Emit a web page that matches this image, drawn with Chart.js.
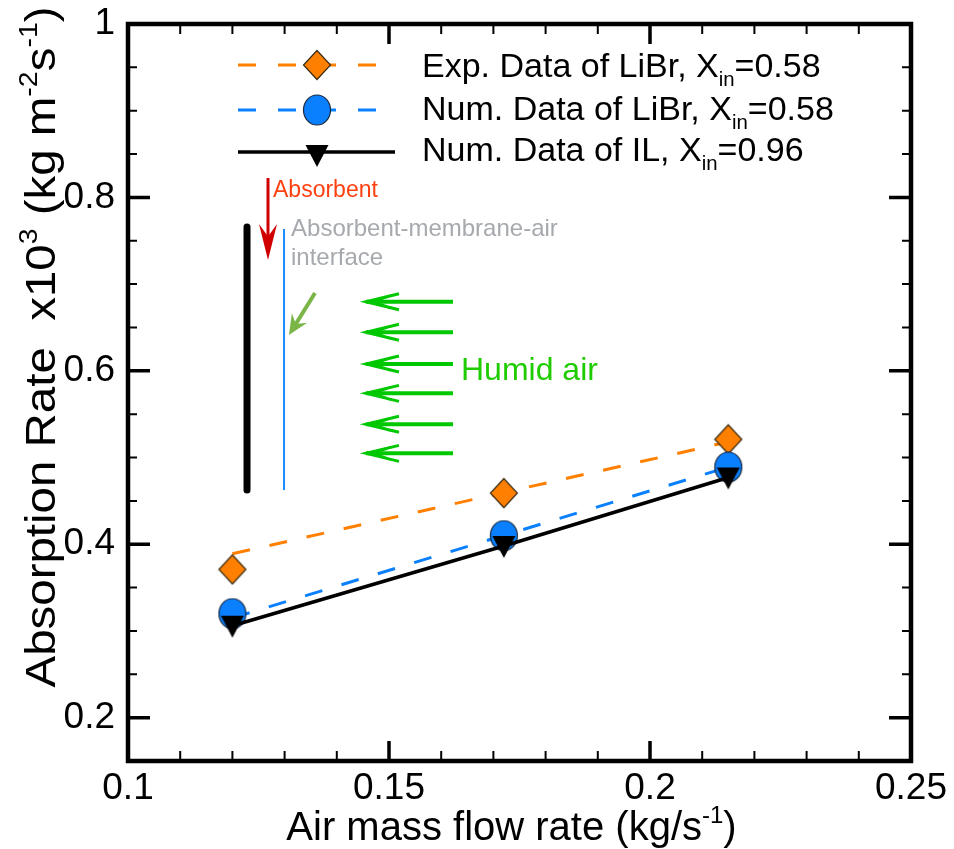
<!DOCTYPE html>
<html>
<head>
<meta charset="utf-8">
<script src="https://cdn.jsdelivr.net/npm/chart.js@4.4.0/dist/chart.umd.min.js"></script>
<style>
  html, body { margin: 0; padding: 0; background: #fff; }
</style>
</head>
<body>
<canvas id="chart" width="954" height="849"></canvas>
<script>
// values
const flowRates = [0.12, 0.172, 0.215];
const expLiBr = [0.371, 0.459, 0.521];
const numLiBr = [0.32, 0.41, 0.489];
const numIL = [0.306, 0.398, 0.477];

// dashed trend lines (end points)
const fitX = [0.12, 0.215];
const expLiBrFit = [0.389, 0.518];
const numLiBrFit = [0.315, 0.489];

const xTicks = [0.1, 0.15, 0.2, 0.25];
const yTicks = [0.2, 0.4, 0.6, 0.8, 1];

// legend labels: [text, kind] pieces
const seriesNames = [
    [["Exp. Data of LiBr, X"], ["in", "sub"], ["=0.58"]],
    [["Num. Data of LiBr, X"], ["in", "sub"], ["=0.58"]],
    [["Num. Data of IL, X"], ["in", "sub"], ["=0.96"]]
];
const xTitle = [["Air mass flow rate (kg/s"], ["-1", "sup"], [")"]];
const yTitle = [["Absorption Rate  x10"], ["3", "sup"], [" (kg m"], ["-2", "sup"], ["s"], ["-1", "sup"], [")"]];

const FONT = '"Liberation Sans", Arial, Helvetica, sans-serif';
const ORANGE = "#ff8000";
const BLUE = "#0a80ff";

function makeMarker(kind) {
    const c = document.createElement("canvas");
    const g = c.getContext("2d");
    if (kind === "diamond") {
        c.width = 30; c.height = 32;
        g.beginPath();
        g.moveTo(15, 1.5); g.lineTo(28.5, 16); g.lineTo(15, 30.5); g.lineTo(1.5, 16);
        g.closePath();
        g.fillStyle = ORANGE; g.fill();
        g.lineWidth = 1.2; g.strokeStyle = "#3a2a10"; g.stroke();
    } else if (kind === "circle") {
        c.width = 30; c.height = 32;
        g.beginPath();
        g.ellipse(15, 16, 13.5, 15, 0, 0, Math.PI * 2);
        g.fillStyle = BLUE; g.fill();
        g.lineWidth = 1.2; g.strokeStyle = "#1a2a40"; g.stroke();
    } else {
        c.width = 26; c.height = 26;
        g.beginPath();
        g.moveTo(1.5, 3); g.lineTo(24.5, 3); g.lineTo(13, 25);
        g.closePath();
        g.fillStyle = "#000"; g.fill();
    }
    return c;
}
const diamond = makeMarker("diamond");
const circle = makeMarker("circle");
const triangle = makeMarker("triangle");

function drawRich(ctx, parts, x, y, size) {
    let cx = x;
    for (const p of parts) {
        const s = p[1] ? size * 0.6 : size;
        ctx.font = s + "px " + FONT;
        let dy = 0;
        if (p[1] === "sup") dy = -size * 0.42;
        if (p[1] === "sub") dy = size * 0.27;
        ctx.fillText(p[0], cx, y + dy);
        cx += ctx.measureText(p[0]).width;
    }
    return cx - x;
}
function richWidth(ctx, parts, size) {
    let w = 0;
    for (const p of parts) {
        ctx.font = (p[1] ? size * 0.6 : size) + "px " + FONT;
        w += ctx.measureText(p[0]).width;
    }
    return w;
}

function arrowHead(ctx, tx, ty, ang, len, half) {
    // filled head pointing along ang, tip at (tx, ty)
    const bx = tx - Math.cos(ang) * len, by = ty - Math.sin(ang) * len;
    const nx = -Math.sin(ang) * half, ny = Math.cos(ang) * half;
    const mx = tx - Math.cos(ang) * len * 0.65, my = ty - Math.sin(ang) * len * 0.65;
    ctx.beginPath();
    ctx.moveTo(tx, ty);
    ctx.lineTo(bx + nx, by + ny);
    ctx.lineTo(mx, my);
    ctx.lineTo(bx - nx, by - ny);
    ctx.closePath();
    ctx.fill();
}

// sketch of the membrane channel drawn inside the plot
const sketchPlugin = {
    id: "sketch",
    beforeDatasetsDraw(chart) {
        const ctx = chart.ctx;
        const X = v => chart.scales.x.getPixelForValue(v);
        const Y = v => chart.scales.y.getPixelForValue(v);
        ctx.save();
        ctx.lineCap = "round";

        // absorbent film (black) and interface (blue)
        ctx.strokeStyle = "#000";
        ctx.lineWidth = 7;
        ctx.beginPath(); ctx.moveTo(X(0.1228), Y(0.7659)); ctx.lineTo(X(0.1228), Y(0.4625)); ctx.stroke();
        ctx.strokeStyle = "#1a8cff";
        ctx.lineWidth = 2;
        ctx.lineCap = "butt";
        ctx.beginPath(); ctx.moveTo(X(0.12989), Y(0.7636)); ctx.lineTo(X(0.12989), Y(0.4625)); ctx.stroke();

        // red absorbent arrow
        ctx.strokeStyle = "#d00000";
        ctx.fillStyle = "#d00000";
        ctx.lineWidth = 3;
        const rx = X(0.12682), ry0 = Y(0.8224), ry1 = Y(0.7278);
        ctx.beginPath(); ctx.moveTo(rx, ry0); ctx.lineTo(rx, ry1 - 20); ctx.stroke();
        arrowHead(ctx, rx, ry1, Math.PI / 2, 36, 9);

        ctx.textAlign = "left";
        ctx.textBaseline = "alphabetic";
        ctx.fillStyle = "#ff4010";
        ctx.font = "23px " + FONT;
        ctx.fillText("Absorbent", X(0.12778), Y(0.8005));

        ctx.fillStyle = "#a6a9ad";
        ctx.font = "24px " + FONT;
        ctx.fillText("Absorbent-membrane-air", X(0.13123), Y(0.7555));
        ctx.fillText("interface", X(0.13123), Y(0.722));

        // olive arrow pointing at the interface
        ctx.strokeStyle = "#7ab547";
        ctx.fillStyle = "#7ab547";
        ctx.lineWidth = 4;
        const ox0 = X(0.13582), oy0 = Y(0.6897), ox1 = X(0.13084), oy1 = Y(0.6413);
        const oa = Math.atan2(oy1 - oy0, ox1 - ox0);
        ctx.beginPath(); ctx.moveTo(ox0, oy0); ctx.lineTo(ox1 - Math.cos(oa) * 10, oy1 - Math.sin(oa) * 10); ctx.stroke();
        arrowHead(ctx, ox1, oy1, oa, 20, 9);

        // humid air arrows
        ctx.strokeStyle = "#00c800";
        ctx.lineCap = "butt";
        const tail = X(0.16226), tip = X(0.14559);
        [0.6797, 0.6444, 0.6078, 0.574, 0.5383, 0.5048].forEach(v => {
            const y = Y(v);
            ctx.lineWidth = 4;
            ctx.beginPath(); ctx.moveTo(tail, y); ctx.lineTo(tip, y); ctx.stroke();
            ctx.lineWidth = 3;
            ctx.beginPath();
            ctx.moveTo(tip + 33, y - 8); ctx.lineTo(tip, y); ctx.lineTo(tip + 33, y + 8);
            ctx.moveTo(tip + 24, y - 6); ctx.lineTo(tip + 6, y); ctx.lineTo(tip + 24, y + 6);
            ctx.stroke();
        });
        ctx.fillStyle = "#1fcc00";
        ctx.font = "32px " + FONT;
        ctx.fillText("Humid air", X(0.16379), Y(0.5894));
        ctx.restore();
    }
};

// frame, inward ticks, legend and axis titles
const framePlugin = {
    id: "frame",
    afterDraw(chart) {
        const ctx = chart.ctx;
        const a = chart.chartArea;
        const sx = chart.scales.x, sy = chart.scales.y;
        ctx.save();
        ctx.strokeStyle = "#000";
        ctx.lineCap = "butt";

        // minor ticks
        ctx.lineWidth = 2;
        ctx.beginPath();
        for (let i = 11; i < 25; i++) {
            const x = sx.getPixelForValue(i / 100);
            ctx.moveTo(x, a.bottom); ctx.lineTo(x, a.bottom - 10);
            ctx.moveTo(x, a.top); ctx.lineTo(x, a.top + 10);
        }
        for (let i = 4; i < 20; i++) {
            const y = sy.getPixelForValue(i / 20);
            ctx.moveTo(a.left, y); ctx.lineTo(a.left + 9, y);
            ctx.moveTo(a.right, y); ctx.lineTo(a.right - 9, y);
        }
        ctx.stroke();

        // major ticks
        ctx.lineWidth = 3.5;
        ctx.beginPath();
        xTicks.forEach(v => {
            const x = sx.getPixelForValue(v);
            ctx.moveTo(x, a.bottom); ctx.lineTo(x, a.bottom - 20);
            ctx.moveTo(x, a.top); ctx.lineTo(x, a.top + 20);
        });
        yTicks.forEach(v => {
            const y = sy.getPixelForValue(v);
            ctx.moveTo(a.left, y); ctx.lineTo(a.left + 22, y);
            ctx.moveTo(a.right, y); ctx.lineTo(a.right - 22, y);
        });
        ctx.stroke();

        ctx.lineWidth = 4.5;
        ctx.strokeRect(a.left, a.top, a.right - a.left, a.bottom - a.top);

        // legend
        const rows = [
            { y: 65, color: ORANGE, dash: [18, 22], end: 376, lw: 3, img: diamond },
            { y: 110, color: BLUE, dash: [18, 22], end: 376, lw: 3, img: circle },
            { y: 152, color: "#000", dash: [], end: 395, lw: 3.5, img: triangle }
        ];
        const base = [77, 120, 161];
        rows.forEach((r, i) => {
            ctx.strokeStyle = r.color;
            ctx.lineWidth = r.lw;
            ctx.setLineDash(r.dash);
            ctx.beginPath(); ctx.moveTo(238, r.y); ctx.lineTo(r.end, r.y); ctx.stroke();
            ctx.setLineDash([]);
            ctx.drawImage(r.img, 317 - r.img.width / 2, r.y + (i === 2 ? 3 : 0) - r.img.height / 2);
            ctx.fillStyle = "#000";
            ctx.textAlign = "left";
            ctx.textBaseline = "alphabetic";
            drawRich(ctx, seriesNames[i], 422, base[i], 34);
        });

        // axis titles
        ctx.fillStyle = "#000";
        const wx = richWidth(ctx, xTitle, 40);
        drawRich(ctx, xTitle, (a.left + a.right) / 2 - 8 - wx / 2, 840, 40);
        // the y title is a little stretched along its length in the original
        const wy = richWidth(ctx, yTitle, 42);
        ctx.translate(55, 347);
        ctx.rotate(-Math.PI / 2);
        ctx.scale(1.13, 1);
        drawRich(ctx, yTitle, -wy / 2, 0, 42);
        ctx.restore();
    }
};

const ctx = document.getElementById("chart").getContext("2d");
new Chart(ctx, {
    type: "scatter",
    data: {
        datasets: [
            {
                label: "Exp. LiBr fit",
                data: fitX.map((x, i) => ({ x: x, y: expLiBrFit[i] })),
                showLine: true,
                borderColor: ORANGE,
                borderWidth: 3,
                borderDash: [18, 20],
                pointRadius: 0,
                order: 6
            },
            {
                label: "Num. LiBr fit",
                data: fitX.map((x, i) => ({ x: x, y: numLiBrFit[i] })),
                showLine: true,
                borderColor: BLUE,
                borderWidth: 3,
                borderDash: [18, 20],
                pointRadius: 0,
                order: 5
            },
            {
                label: "Exp. Data of LiBr",
                data: flowRates.map((x, i) => ({ x: x, y: expLiBr[i] })),
                pointStyle: diamond,
                order: 4
            },
            {
                label: "Num. Data of LiBr",
                data: flowRates.map((x, i) => ({ x: x, y: numLiBr[i] })),
                pointStyle: circle,
                order: 3
            },
            {
                label: "Num. Data of IL",
                data: flowRates.map((x, i) => ({ x: x, y: numIL[i] })),
                showLine: true,
                borderColor: "#000",
                borderWidth: 3.5,
                pointStyle: triangle,
                order: 1
            }
        ]
    },
    options: {
        responsive: false,
        animation: false,
        events: [],
        layout: { padding: { left: 0, top: 24, right: 43, bottom: 0 } },
        plugins: { legend: { display: false }, tooltip: { enabled: false } },
        scales: {
            x: {
                type: "linear",
                min: 0.1,
                max: 0.25,
                grid: { display: false, drawTicks: false },
                border: { display: false },
                afterBuildTicks: s => { s.ticks = xTicks.map(v => ({ value: v })); },
                afterFit: s => { s.height = 88; s.paddingLeft = 0; s.paddingRight = 0; },
                ticks: {
                    color: "#000",
                    font: { family: FONT, size: 37 },
                    padding: 6,
                    maxRotation: 0,
                    autoSkip: false,
                    callback: v => String(v)
                }
            },
            y: {
                type: "linear",
                min: 0.15,
                max: 1,
                grid: { display: false, drawTicks: false },
                border: { display: false },
                afterBuildTicks: s => { s.ticks = yTicks.map(v => ({ value: v })); },
                afterFit: s => { s.width = 128; s.paddingTop = 0; s.paddingBottom = 0; },
                ticks: {
                    color: "#000",
                    font: { family: FONT, size: 37 },
                    padding: 13,
                    autoSkip: false,
                    callback: v => String(v)
                }
            }
        }
    },
    plugins: [sketchPlugin, framePlugin]
});
</script>
</body>
</html>
